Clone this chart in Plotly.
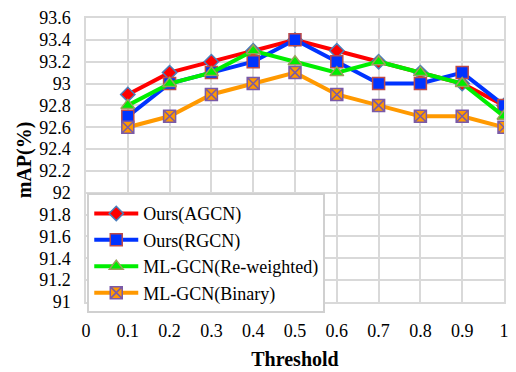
import plotly.graph_objects as go

thresholds = [0.1, 0.2, 0.3, 0.4, 0.5, 0.6, 0.7, 0.8, 0.9, 1.0]
agcn = [92.9, 93.1, 93.2, 93.3, 93.4, 93.3, 93.2, 93.1, 93.0, 92.8]
rgcn = [92.7, 93.0, 93.1, 93.2, 93.4, 93.2, 93.0, 93.0, 93.1, 92.8]
reweighted = [92.8, 93.0, 93.1, 93.3, 93.2, 93.1, 93.2, 93.1, 93.0, 92.7]
binary = [92.6, 92.7, 92.9, 93.0, 93.1, 92.9, 92.8, 92.7, 92.7, 92.6]

y_ticks = [91 + 0.2 * i for i in range(14)]
y_labels = ["91", "91.2", "91.4", "91.6", "91.8", "92", "92.2", "92.4", "92.6", "92.8",
            "93", "93.2", "93.4", "93.6"]
x_ticks = [0, 0.1, 0.2, 0.3, 0.4, 0.5, 0.6, 0.7, 0.8, 0.9, 1.0]
x_labels = ["0", "0.1", "0.2", "0.3", "0.4", "0.5", "0.6", "0.7", "0.8", "0.9", "1"]

series = [
    ("Ours(AGCN)", agcn, "#ff0000", "diamond", "#4a7ebb", 11),
    ("Ours(RGCN)", rgcn, "#0033ff", "square", "#be4b48", 12),
    ("ML-GCN(Re-weighted)", reweighted, "#00ee00", "triangle-up", "#98a05a", 12),
    ("ML-GCN(Binary)", binary, "#ff9900", "square-x", "#7a5aa8", 12),
]

fig = go.Figure()
for name, vals, color, sym, lcol, sz in series:
    fig.add_trace(go.Scatter(
        x=thresholds, y=vals, name=name, mode="lines+markers",
        line=dict(color=color, width=4),
        marker=dict(symbol=sym, size=sz, color=color, line=dict(color=lcol, width=1.5)),
    ))

font_family = "Liberation Serif"
fig.update_layout(
    width=516, height=372,
    margin=dict(l=86, r=12, t=18, b=70),
    paper_bgcolor="white", plot_bgcolor="white",
    font=dict(family=font_family, size=18, color="black"),
    showlegend=True,
    legend=dict(x=0.003, y=0.383, xanchor="left", yanchor="top",
                bgcolor="white", bordercolor="#d0d0d0", borderwidth=2,
                font=dict(family=font_family, size=18, color="black"),
                itemwidth=44, tracegroupgap=0),
)
fig.update_xaxes(
    range=[0, 1], tickvals=x_ticks, ticktext=x_labels,
    showgrid=True, gridcolor="#d9d9d9", gridwidth=1.5,
    showline=True, linecolor="#d9d9d9", linewidth=1.5, mirror=True,
    zeroline=False, ticks="outside", ticklen=12, tickcolor="rgba(0,0,0,0)",
    automargin=False,
    title=dict(text="<b>Threshold</b>", font=dict(family=font_family, size=20), standoff=12),
    tickfont=dict(family=font_family, size=18),
)
fig.update_yaxes(
    range=[91, 93.6], tickvals=y_ticks, ticktext=y_labels,
    showgrid=True, gridcolor="#d9d9d9", gridwidth=1.5,
    showline=True, linecolor="#d9d9d9", linewidth=1.5, mirror=True,
    zeroline=False, ticks="outside", ticklen=10, tickcolor="rgba(0,0,0,0)",
    automargin=False,
    title=dict(text="<b>mAP(%)</b>", font=dict(family=font_family, size=20), standoff=2),
    tickfont=dict(family=font_family, size=18),
)

fig.write_html("out.html", config={"displayModeBar": False},
               post_script="document.body.style.margin='0px';")
